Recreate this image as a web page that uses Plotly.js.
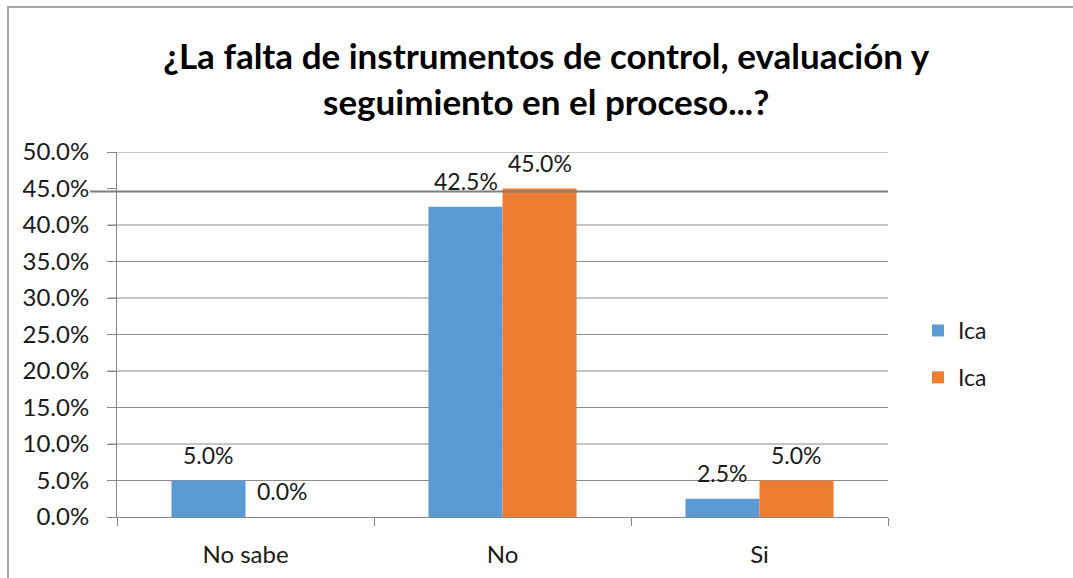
<!DOCTYPE html>
<html>
<head>
<meta charset="utf-8">
<script src="https://cdn.plot.ly/plotly-3.0.1.min.js"></script>
<style>html,body{margin:0;padding:0;background:#fff;}#chart{width:1073px;height:578px;}</style>
</head>
<body>
<div id="chart"></div>
<script>
const categories = ["No sabe", "No", "Si"];
const seriesNames = ["Ica", "Ica"];
const series1 = [5.0, 42.5, 2.5];
const series2 = [0.0, 45.0, 5.0];
const tickVals = [0, 5, 10, 15, 20, 25, 30, 35, 40, 45, 50];
const tickText = ["0.0%", "5.0%", "10.0%", "15.0%", "20.0%", "25.0%", "30.0%", "35.0%", "40.0%", "45.0%", "50.0%"];
const titleText = "¿La falta de instrumentos de control, evaluación y<br>seguimiento en el proceso...?";

const FONT = "Lato, 'Open Sans', sans-serif";
const fmt = v => v.toFixed(1) + "%";

const traces = [
  {type: "bar", name: seriesNames[0], x: categories, y: series1, marker: {color: "#5B9BD5"}, legendgroup: "a"},
  {type: "bar", name: seriesNames[1], x: categories, y: series2, marker: {color: "#ED7D31"}, legendgroup: "b"}
];

const L = 117, R = 888, T = 152, B = 517, W = 1073, H = 578;
const px = v => (v - L) / (R - L);
const py = v => (B - v) / (B - T);

// data labels as annotations anchored to the bar values
const annotations = [];
[series1, series2].forEach((s, si) => {
  s.forEach((v, i) => {
    annotations.push({x: categories[i], y: v, xref: "x", yref: "y", text: fmt(v), showarrow: false,
      xshift: si === 0 ? -37 : 37, yshift: 26, yanchor: "middle",
      font: {family: FONT, size: 23, color: "#1a1a1a"}});
  });
});

// gridlines (the 45% line is drawn darker, slightly offset, as in the source)
const shapes = tickVals.filter(t => t !== 0 && t !== 45).map(t => ({
  type: "line", xref: "paper", yref: "y", x0: px(108), x1: 1, y0: t, y1: t,
  line: {color: "#8c8c8c", width: 1}, layer: "below"}));
shapes.push({type: "line", xref: "paper", yref: "paper", x0: px(90), x1: 1, y0: py(191.5), y1: py(191.5),
  line: {color: "#7f7f7f", width: 2}});
shapes.push({type: "line", xref: "paper", yref: "paper", x0: px(7), x1: px(1073), y0: py(7), y1: py(7),
  line: {color: "#a6a6a6", width: 2}});
shapes.push({type: "line", xref: "paper", yref: "paper", x0: px(8), x1: px(8), y0: py(7), y1: py(578),
  line: {color: "#a6a6a6", width: 2}});

const layout = {
  width: W, height: H,
  margin: {l: L, r: W - R, t: T, b: H - B, pad: 0},
  paper_bgcolor: "#ffffff", plot_bgcolor: "rgba(0,0,0,0)",
  font: {family: FONT, size: 23, color: "#1a1a1a"},
  title: {text: titleText, font: {family: FONT, size: 35, color: "#000", weight: "bold"},
          x: 0.509, xanchor: "center", xref: "container", yref: "container", y: 1 - 69 / 578, yanchor: "middle"},
  barmode: "group", bargap: 0.424, bargroupgap: 0,
  showlegend: true,
  legend: {x: px(918), xanchor: "left", y: py(309), yanchor: "top",
           font: {family: FONT, size: 23, color: "#1a1a1a"},
           traceorder: "grouped", tracegroupgap: 14, itemwidth: 30},
  xaxis: {showgrid: false, showline: true, linecolor: "#868686", linewidth: 1,
          ticks: "outside", ticklen: 8, tickcolor: "#868686",
          tickson: "boundaries", ticklabelstandoff: 16,
          tickfont: {family: FONT, size: 24, color: "#1a1a1a"}},
  yaxis: {range: [0, 50], tickvals: tickVals, ticktext: tickText,
          showgrid: false,
          showline: true, linecolor: "#868686", linewidth: 1,
          ticks: "outside", ticklen: 9, tickcolor: "#868686",
          ticklabelstandoff: 13, zeroline: false,
          tickfont: {family: FONT, size: 24, color: "#1a1a1a"}},
  annotations: annotations,
  shapes: shapes
};

Plotly.newPlot("chart", traces, layout, {displayModeBar: false, staticPlot: true});
</script>
</body>
</html>
